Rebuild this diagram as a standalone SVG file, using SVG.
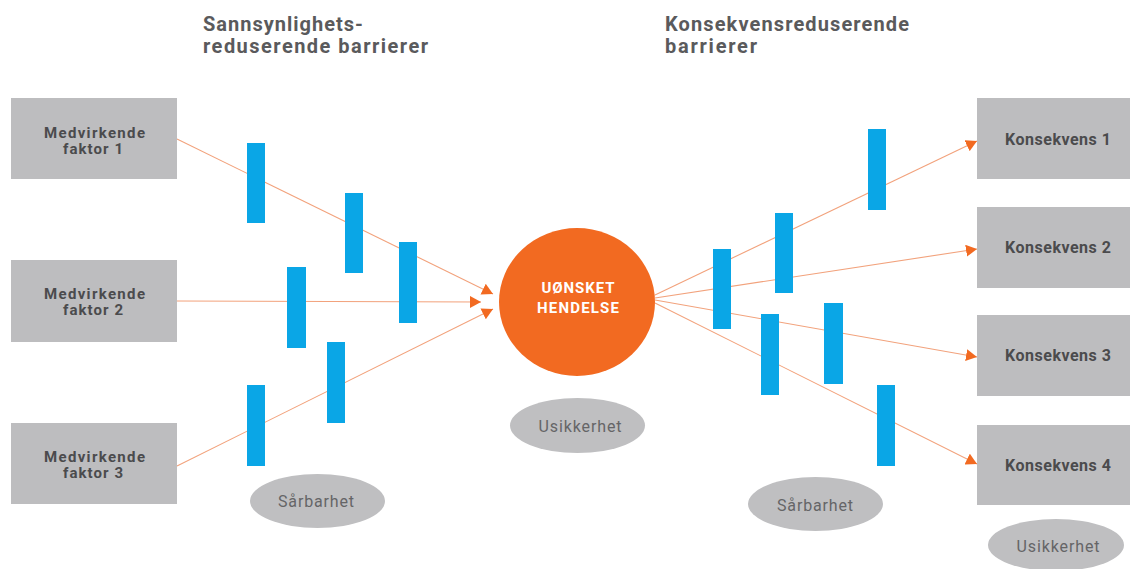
<svg xmlns="http://www.w3.org/2000/svg" width="1130" height="569" viewBox="0 0 1130 569">
<defs>
<style>
.title{font-family:Roboto,"Liberation Sans",sans-serif;font-weight:700;font-size:20px;fill:#5a5a5c}
.box{fill:#bdbdbf}
.btxt{font-family:Roboto,"Liberation Sans",sans-serif;font-weight:700;font-size:15px;fill:#4b4b4d;text-anchor:middle}
.ktxt{font-family:Roboto,"Liberation Sans",sans-serif;font-weight:700;font-size:16px;fill:#4b4b4d;text-anchor:middle}
.bar{fill:#0aa6e6}
.ell{fill:#bfbfc1}
.etxt{font-family:Roboto,"Liberation Sans",sans-serif;font-weight:400;font-size:16px;fill:#656567;text-anchor:middle}
.ctxt{font-family:Roboto,"Liberation Sans",sans-serif;font-weight:700;font-size:15px;fill:#ffffff;text-anchor:middle}
.con{stroke:#f2a27c;stroke-width:1.1;fill:none}
</style>
<marker id="arr" markerUnits="userSpaceOnUse" markerWidth="11" markerHeight="12" viewBox="0 0 11 12" refX="11" refY="6" orient="auto">
<path d="M0,0 L11,6 L0,12 z" fill="#f26a21"/>
</marker>
</defs>
<rect width="1130" height="569" fill="#ffffff"/>

<g id="titles">
<text class="title" x="203" y="31" textLength="160" lengthAdjust="spacing">Sannsynlighets-</text>
<text class="title" x="203" y="53" textLength="225" lengthAdjust="spacing">reduserende barrierer</text>
<text class="title" x="665" y="31" textLength="244" lengthAdjust="spacing">Konsekvensreduserende</text>
<text class="title" x="665" y="53" textLength="92" lengthAdjust="spacing">barrierer</text>
</g>

<g id="connectors">
<line class="con" x1="177" y1="139" x2="493" y2="294" marker-end="url(#arr)"/>
<line class="con" x1="177" y1="301" x2="481" y2="302" marker-end="url(#arr)"/>
<line class="con" x1="177" y1="466" x2="493" y2="309" marker-end="url(#arr)"/>
<line class="con" x1="655" y1="295" x2="977" y2="141" marker-end="url(#arr)"/>
<line class="con" x1="655" y1="298" x2="977" y2="249" marker-end="url(#arr)"/>
<line class="con" x1="655" y1="300" x2="977" y2="357" marker-end="url(#arr)"/>
<line class="con" x1="655" y1="303" x2="977" y2="464" marker-end="url(#arr)"/>
</g>

<g id="barriers-left">
<rect class="bar" x="247" y="143" width="18" height="80"/>
<rect class="bar" x="345" y="193" width="18" height="80"/>
<rect class="bar" x="399" y="242" width="18" height="81"/>
<rect class="bar" x="287" y="267" width="19" height="81"/>
<rect class="bar" x="327" y="342" width="18" height="81"/>
<rect class="bar" x="247" y="385" width="18" height="81"/>
</g>
<g id="barriers-right">
<rect class="bar" x="868" y="129" width="18" height="81"/>
<rect class="bar" x="775" y="213" width="18" height="80"/>
<rect class="bar" x="713" y="249" width="18" height="80"/>
<rect class="bar" x="761" y="314" width="18" height="81"/>
<rect class="bar" x="824" y="303" width="19" height="81"/>
<rect class="bar" x="877" y="385" width="18" height="81"/>
</g>

<g id="faktor1">
<rect class="box" x="11" y="98" width="166" height="81"/>
<text class="btxt" x="94.5" y="137.5" textLength="101" lengthAdjust="spacing">Medvirkende</text>
<text class="btxt" x="93" y="154" textLength="60" lengthAdjust="spacing">faktor 1</text>
</g>
<g id="faktor2">
<rect class="box" x="11" y="260" width="166" height="82"/>
<text class="btxt" x="94.5" y="298.5" textLength="101" lengthAdjust="spacing">Medvirkende</text>
<text class="btxt" x="93" y="315" textLength="60" lengthAdjust="spacing">faktor 2</text>
</g>
<g id="faktor3">
<rect class="box" x="11" y="423" width="166" height="81"/>
<text class="btxt" x="94.5" y="461.5" textLength="101" lengthAdjust="spacing">Medvirkende</text>
<text class="btxt" x="93" y="478" textLength="60" lengthAdjust="spacing">faktor 3</text>
</g>

<g id="hendelse">
<ellipse cx="577" cy="302" rx="78" ry="74" fill="#f26a21"/>
<text class="ctxt" x="578" y="293" textLength="73" lengthAdjust="spacing">UØNSKET</text>
<text class="ctxt" x="578" y="313" textLength="82" lengthAdjust="spacing">HENDELSE</text>
</g>

<g id="usikkerhet1">
<ellipse class="ell" cx="577.5" cy="425.5" rx="67.5" ry="27.5"/>
<text class="etxt" x="580" y="432" textLength="83" lengthAdjust="spacing">Usikkerhet</text>
</g>
<g id="sarbarhet1">
<ellipse class="ell" cx="317.5" cy="501" rx="67.5" ry="27"/>
<text class="etxt" x="316" y="507" textLength="76" lengthAdjust="spacing">Sårbarhet</text>
</g>
<g id="sarbarhet2">
<ellipse class="ell" cx="815.5" cy="504" rx="67.5" ry="27"/>
<text class="etxt" x="815" y="511" textLength="76" lengthAdjust="spacing">Sårbarhet</text>
</g>
<g id="usikkerhet2">
<ellipse class="ell" cx="1056" cy="545" rx="68" ry="26"/>
<text class="etxt" x="1058" y="552" textLength="83" lengthAdjust="spacing">Usikkerhet</text>
</g>

<g id="konsekvens1">
<rect class="box" x="977" y="98" width="153" height="81"/>
<text class="ktxt" x="1058" y="145" textLength="106" lengthAdjust="spacing">Konsekvens 1</text>
</g>
<g id="konsekvens2">
<rect class="box" x="977" y="207" width="153" height="81"/>
<text class="ktxt" x="1058" y="253" textLength="106" lengthAdjust="spacing">Konsekvens 2</text>
</g>
<g id="konsekvens3">
<rect class="box" x="977" y="315" width="153" height="81"/>
<text class="ktxt" x="1058" y="361" textLength="106" lengthAdjust="spacing">Konsekvens 3</text>
</g>
<g id="konsekvens4">
<rect class="box" x="977" y="425" width="153" height="80"/>
<text class="ktxt" x="1058" y="471" textLength="106" lengthAdjust="spacing">Konsekvens 4</text>
</g>
</svg>
